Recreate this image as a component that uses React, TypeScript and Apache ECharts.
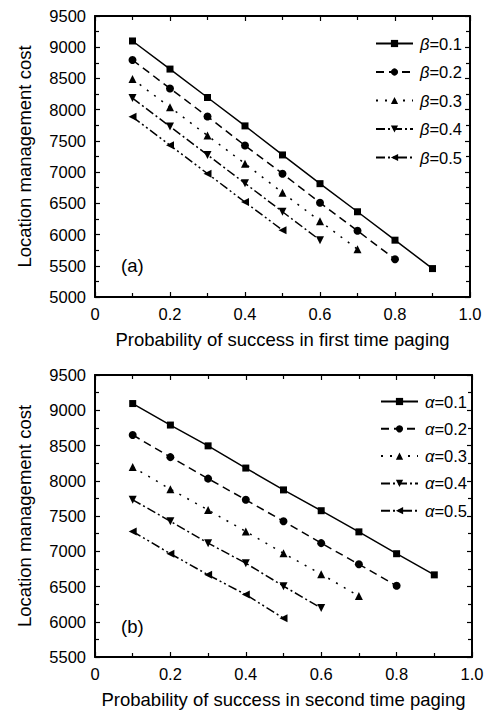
import React, { useEffect, useRef } from "react";
import * as echarts from "echarts";

const xTop = [0.1, 0.2, 0.3, 0.4, 0.5, 0.6, 0.7, 0.8, 0.9];
const xBottom = [0.1, 0.2, 0.3, 0.4, 0.5, 0.6, 0.7, 0.8, 0.9];

const beta01 = [9100, 8650, 8195, 7740, 7275, 6815, 6365, 5910, 5455];
const beta02 = [8795, 8340, 7890, 7425, 6975, 6510, 6060, 5605];
const beta03 = [8490, 8040, 7585, 7135, 6670, 6215, 5765];
const beta04 = [8185, 7730, 7275, 6820, 6365, 5910];
const beta05 = [7885, 7430, 6975, 6520, 6070];

const alpha01 = [9095, 8790, 8495, 8180, 7870, 7575, 7275, 6965, 6665];
const alpha02 = [8650, 8335, 8030, 7730, 7425, 7115, 6815, 6510];
const alpha03 = [8195, 7880, 7585, 7280, 6970, 6675, 6365];
const alpha04 = [7730, 7425, 7115, 6830, 6505, 6195];
const alpha05 = [7280, 6965, 6665, 6385, 6050];

const betaNames = ["β=0.1", "β=0.2", "β=0.3", "β=0.4", "β=0.5"];
const alphaNames = ["α=0.1", "α=0.2", "α=0.3", "α=0.4", "α=0.5"];
const xTickLabels = ["0", "0.2", "0.4", "0.6", "0.8", "1.0"];

const FONT = "'Liberation Sans', Arial, sans-serif";

const symbols = [
  "rect",
  "circle",
  "triangle",
  "path://M0,0L10,0L5,9Z",
  "path://M0,5L9,0L9,10Z",
];
const dashes: any[] = [
  "solid",
  [8, 5],
  [2, 7],
  [9, 3, 2, 3],
  [9, 3, 2, 3, 2, 3],
];

function makeSeries(name: string, xs: number[], ys: number[], idx: number, axisIdx: number) {
  return {
    type: "line",
    name,
    xAxisIndex: axisIdx,
    yAxisIndex: axisIdx,
    data: ys.map((y, i) => [xs[i], y]),
    symbol: symbols[idx],
    symbolSize: idx === 0 ? 7 : 8,
    showSymbol: true,
    itemStyle: { color: "#000" },
    lineStyle: { color: "#000", width: 1.5, type: dashes[idx] },
    z: 3,
  };
}

function xAxisFor(grid: number, top: boolean) {
  return {
    type: "value",
    gridIndex: grid,
    position: top ? "top" : "bottom",
    min: 0,
    max: 1,
    interval: 0.2,
    name: top
      ? ""
      : grid === 0
      ? "Probability of success in first time paging"
      : "Probability of success in second time paging",
    nameLocation: "middle",
    nameGap: 33,
    nameTextStyle: { color: "#000", fontSize: 18.5, fontFamily: FONT },
    axisLine: { show: true, onZero: false, lineStyle: { color: "#000", width: 2 } },
    axisTick: { show: true, inside: true, length: 5, lineStyle: { color: "#000", width: 1.2 } },
    minorTick: { show: true, splitNumber: 2, length: 4, lineStyle: { color: "#000", width: 1.2 } },
    splitLine: { show: false },
    axisLabel: {
      show: !top,
      margin: 8,
      color: "#000",
      fontSize: 16.5,
      fontFamily: FONT,
      formatter: (v: number) => xTickLabels[Math.round(v / 0.2)] ?? String(v),
    },
  };
}

function yAxisFor(grid: number, right: boolean, min: number) {
  return {
    type: "value",
    gridIndex: grid,
    position: right ? "right" : "left",
    min,
    max: 9500,
    interval: 500,
    name: right ? "" : "Location management cost",
    nameLocation: "middle",
    nameGap: 61,
    nameTextStyle: { color: "#000", fontSize: 18.5, fontFamily: FONT },
    axisLine: { show: true, onZero: false, lineStyle: { color: "#000", width: 2 } },
    axisTick: { show: true, inside: true, length: 5, lineStyle: { color: "#000", width: 1.2 } },
    minorTick: { show: true, splitNumber: 2, length: 4, lineStyle: { color: "#000", width: 1.2 } },
    splitLine: { show: false },
    axisLabel: {
      show: !right,
      margin: 9,
      color: "#000",
      fontSize: 16.5,
      fontFamily: FONT,
      formatter: (v: number) => String(v),
    },
  };
}

function legendFor(names: string[], left: number, top: number, gap: number) {
  return {
    data: names,
    orient: "vertical",
    left,
    top,
    itemWidth: 37,
    itemHeight: 9,
    itemGap: gap,
    textStyle: {
      color: "#000",
      fontSize: 16.5,
      fontFamily: FONT,
      rich: {
        g: { fontStyle: "italic", fontSize: 16.5, fontFamily: FONT, color: "#000", padding: [0, 0, 0, 2] },
        n: { fontSize: 16.5, fontFamily: FONT, color: "#000" },
      },
    },
    formatter: (name: string) => `{g|${name.charAt(0)}}{n|${name.slice(1)}}`,
  };
}

export default function App() {
  const ref = useRef<HTMLDivElement>(null);
  useEffect(() => {
    if (!ref.current) return;
    const chart = echarts.init(ref.current, undefined, { renderer: "svg" });
    const betaData = [beta01, beta02, beta03, beta04, beta05];
    const alphaData = [alpha01, alpha02, alpha03, alpha04, alpha05];
    const series: any[] = [];
    betaData.forEach((ys, i) => series.push(makeSeries(betaNames[i], xTop, ys, i, 0)));
    alphaData.forEach((ys, i) => series.push(makeSeries(alphaNames[i], xBottom, ys, i, 2)));
    const option: any = {
      animation: false,
      backgroundColor: "#fff",
      textStyle: { fontFamily: FONT },
      grid: [
        { left: 95, top: 16, width: 375, height: 281 },
        { left: 95, top: 375, width: 377, height: 282 },
      ],
      xAxis: [xAxisFor(0, false), xAxisFor(0, true), xAxisFor(1, false), xAxisFor(1, true)],
      yAxis: [
        yAxisFor(0, false, 5000),
        yAxisFor(0, true, 5000),
        yAxisFor(1, false, 5500),
        yAxisFor(1, true, 5500),
      ],
      legend: [legendFor(betaNames, 370, 30, 11.5), legendFor(alphaNames, 375, 388, 10.3)],
      graphic: [
        {
          type: "text",
          left: 121,
          top: 256,
          style: { text: "(a)", fontSize: 18.5, fontFamily: FONT, fill: "#000" },
        },
        {
          type: "text",
          left: 121,
          top: 617,
          style: { text: "(b)", fontSize: 18.5, fontFamily: FONT, fill: "#000" },
        },
      ],
      series,
    };
    chart.setOption(option);
    return () => chart.dispose();
  }, []);
  return (
    <div
      ref={ref}
      style={{ position: "fixed", left: 0, top: 0, width: 489, height: 711, background: "#fff" }}
    />
  );
}
